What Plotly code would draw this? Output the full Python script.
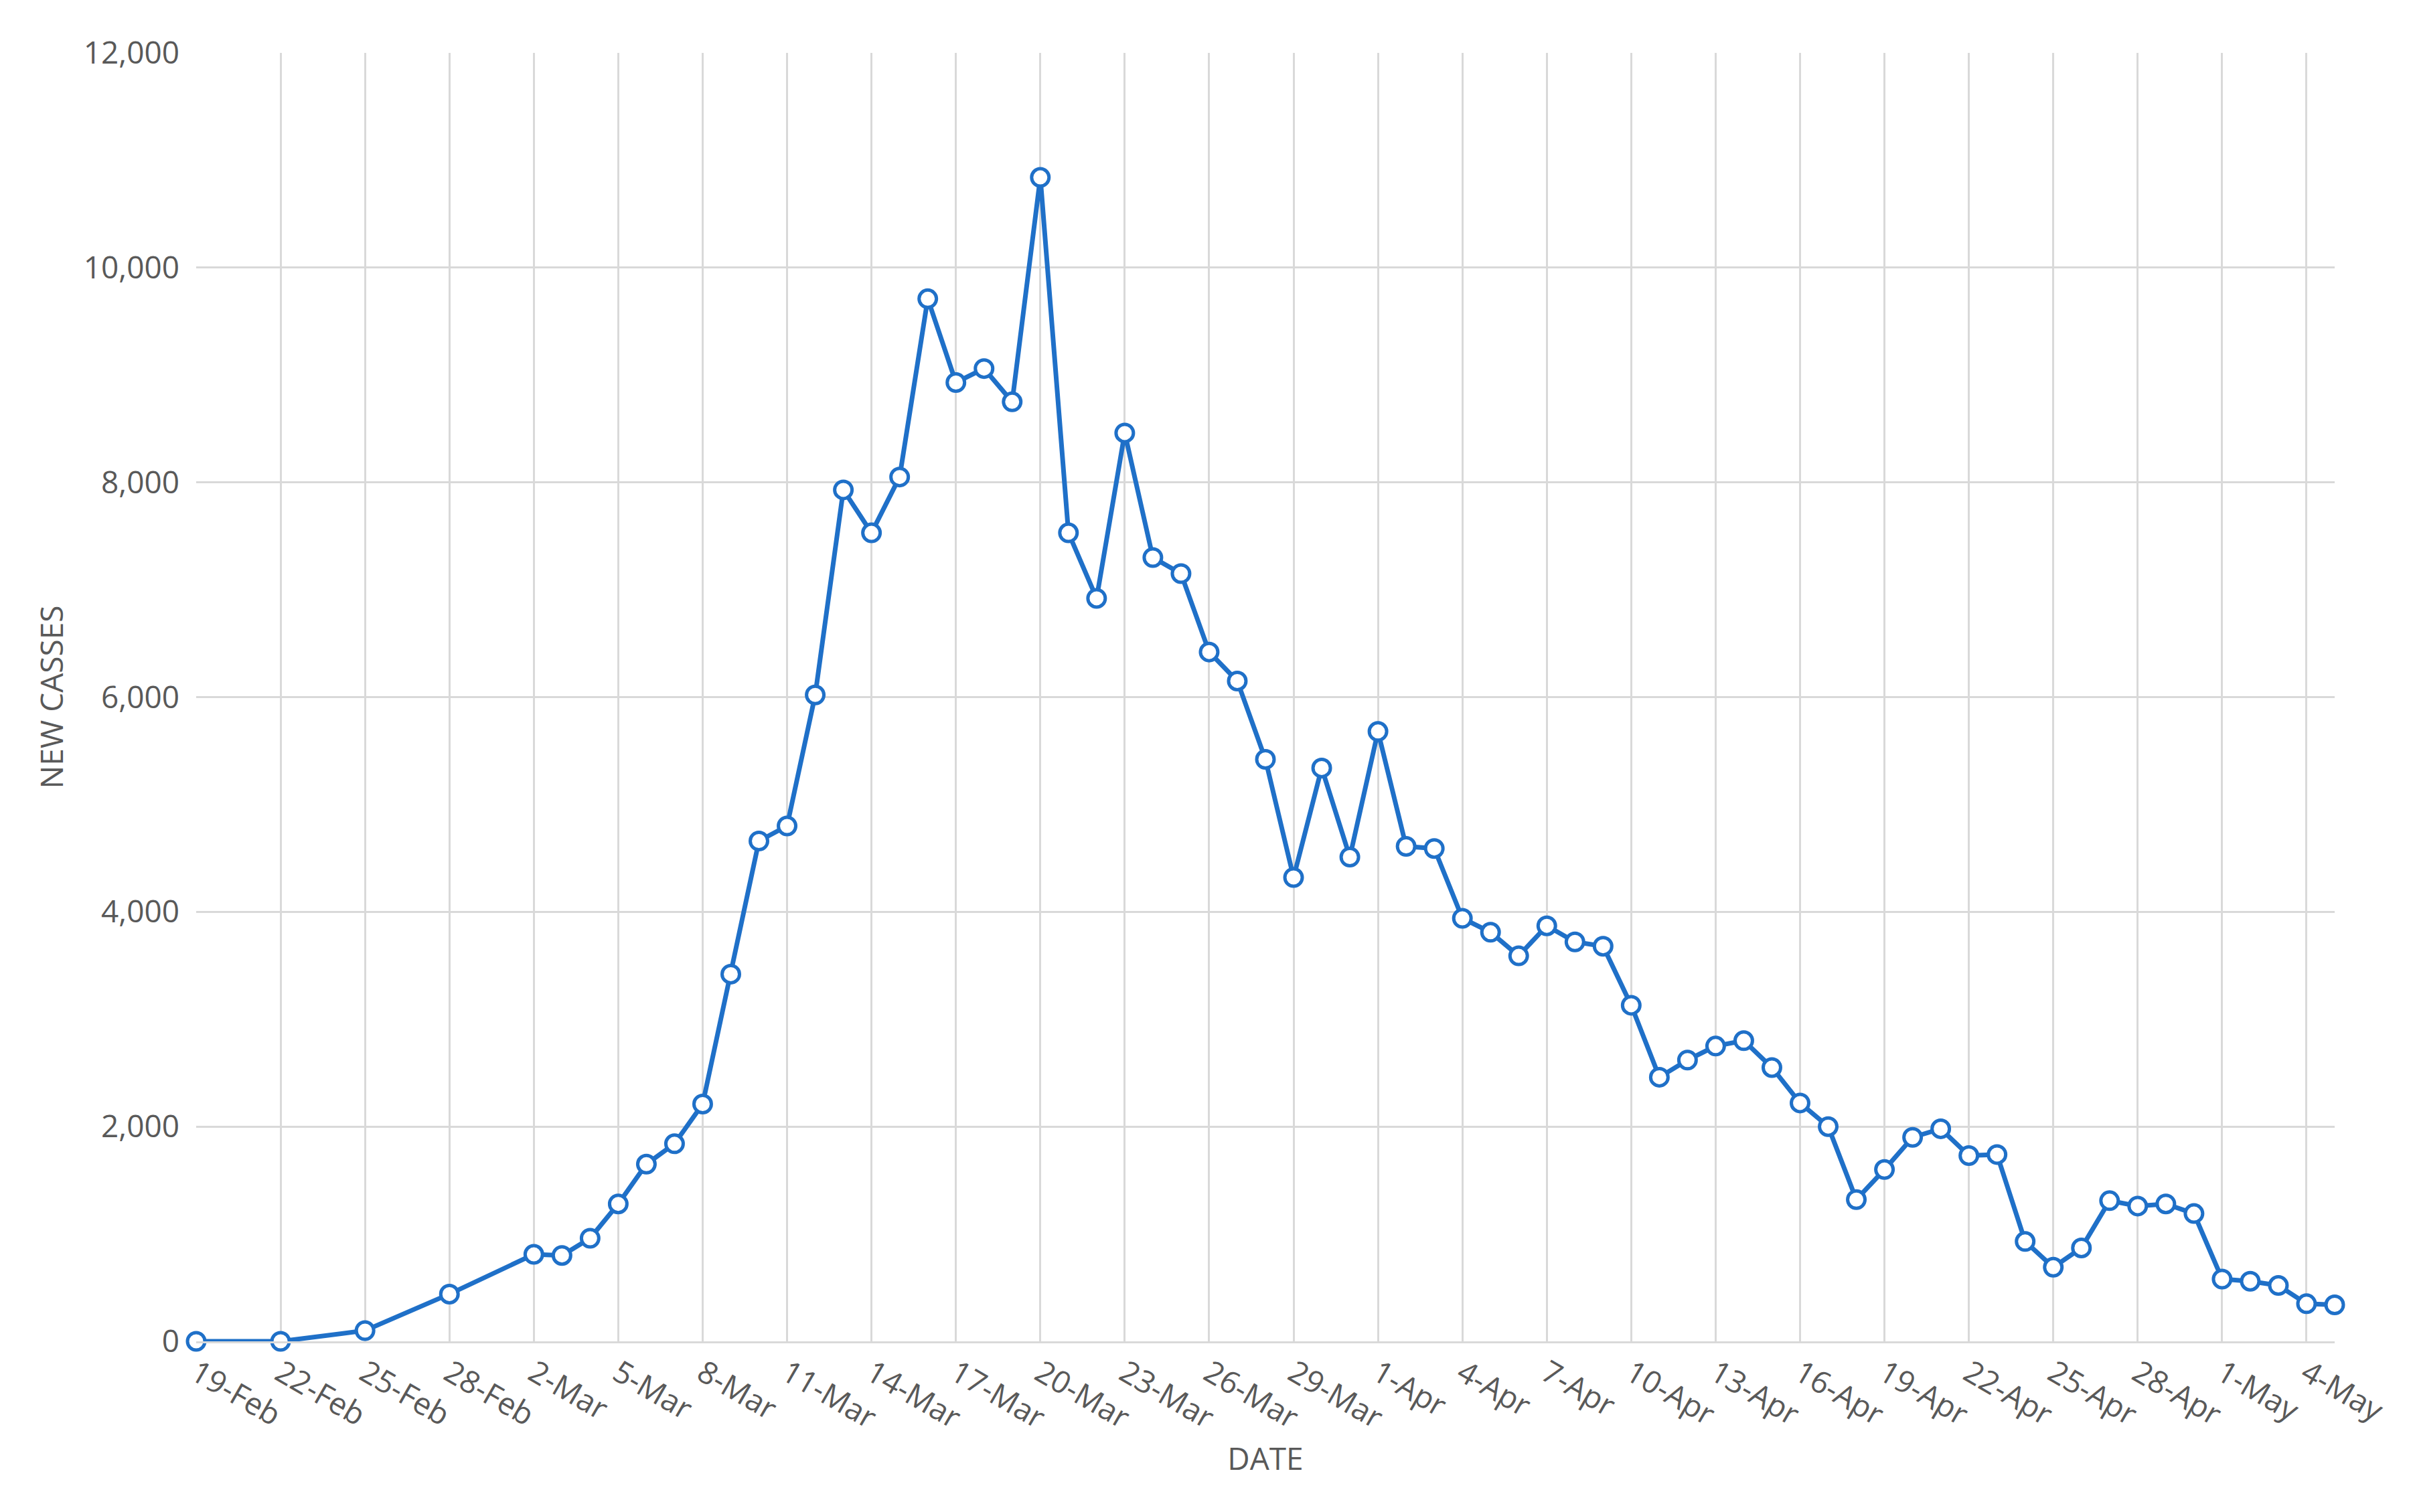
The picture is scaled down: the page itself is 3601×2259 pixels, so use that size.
import plotly.graph_objects as go
import pandas as pd

dates = ["2020-02-19","2020-02-22","2020-02-25","2020-02-28"] + \
    [d.strftime("%Y-%m-%d") for d in pd.date_range("2020-03-02","2020-05-05")]
cases = [0,0,100,440,810,
 800,960,1280,1650,1840,2210,3420,4660,4800,6020,7930,7530,8050,9710,8930,9060,8750,10840,
 7530,6920,8460,7300,7150,6420,6150,5420,4320,5340,4510,
 5680,4610,4590,3940,3810,3590,3870,3720,3680,3130,2460,2620,2750,2800,2550,2220,2000,1320,
 1600,1900,1980,1730,1740,930,690,870,1310,1260,1280,1190,580,560,520,350,340]

fig = go.Figure(go.Scatter(x=dates, y=cases, mode="lines+markers", cliponaxis=False,
    line=dict(color="#1F70C8", width=7),
    marker=dict(size=26, color="white", line=dict(color="#1F70C8", width=5))))
font = dict(family="Open Sans, DejaVu Sans", color="#595959")
fig.update_layout(width=3601, height=2259, paper_bgcolor="white", plot_bgcolor="white",
    margin=dict(l=285, r=122, t=71, b=263), showlegend=False, font=dict(**font, size=44))
fig.update_xaxes(type="date", range=["2020-02-19","2020-05-05"], tick0="2020-02-19",
    dtick=3*86400000, tickformat="%-d-%b", tickangle=30, showgrid=True, gridcolor="#D9D9D9",
    gridwidth=3, tickfont=dict(size=46), title=dict(text="DATE", font=dict(size=46), standoff=10),
    showline=True, linecolor="#D9D9D9", linewidth=3)
fig.update_yaxes(range=[0,12000], dtick=2000, tickformat=",", gridcolor="#D9D9D9",
    gridwidth=3, zeroline=False, tickfont=dict(size=46),
    title=dict(text="NEW CASSES", font=dict(size=46)), ticksuffix="  ")
fig.write_html("out.html")
